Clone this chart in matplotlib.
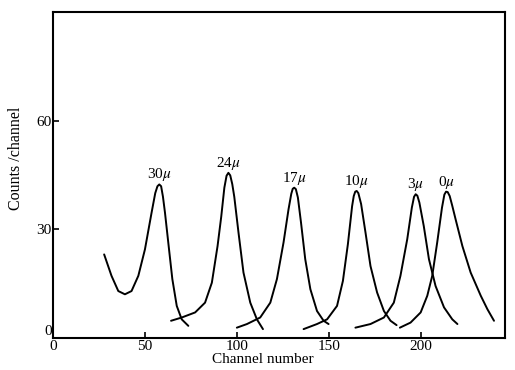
import matplotlib
matplotlib.use("Agg")
import matplotlib.pyplot as plt

plt.rcParams["font.family"] = ["Liberation Serif", "DejaVu Serif"]
plt.rcParams["mathtext.fontset"] = "stix"

# spectra for different absorber thicknesses (channel, counts)
labels = ["30", "24", "17", "10", "3", "0"]

ch_30 = [27.8, 31.8, 35.5, 39.1, 42.7, 46.4, 50.0, 53.6, 55.6, 56.8, 57.8, 58.8, 59.8, 60.9, 63.1, 64.9, 67.3, 70.0, 73.6]
ct_30 = [23.1, 17.2, 13.0, 12.1, 13.0, 17.2, 24.5, 34.6, 40.0, 41.9, 42.4, 41.9, 39.0, 34.6, 24.5, 16.3, 8.9, 5.2, 3.4]

ch_24 = [64.2, 70.0, 77.3, 82.7, 86.4, 89.5, 91.5, 93.2, 94.4, 95.4, 96.4, 97.5, 98.6, 100.9, 103.6, 107.3, 110.9, 114.2]
ct_24 = [4.8, 5.7, 7.1, 9.8, 15.3, 25.4, 33.5, 41.5, 44.8, 45.6, 44.9, 42.5, 39.0, 29.1, 18.1, 9.8, 5.2, 2.5]

ch_17 = [100.0, 105.5, 112.7, 118.2, 121.8, 125.4, 128.1, 129.6, 130.4, 131.2, 132.1, 133.2, 134.9, 137.2, 140.0, 143.6, 147.2, 149.9]
ct_17 = [2.9, 3.9, 5.7, 9.8, 16.3, 26.4, 35.5, 39.8, 41.2, 41.5, 41.1, 38.8, 31.9, 21.8, 13.5, 7.5, 4.8, 3.9]

ch_10 = [136.3, 143.6, 149.1, 154.5, 157.7, 160.4, 162.7, 163.6, 164.4, 165.2, 166.1, 167.6, 170.0, 172.7, 176.3, 180.0, 183.6, 186.9]
ct_10 = [2.5, 3.9, 5.2, 8.9, 15.8, 25.9, 36.4, 39.2, 40.4, 40.6, 40.0, 37.0, 29.1, 19.9, 12.6, 7.5, 4.8, 3.6]

ch_3 = [164.5, 172.7, 180.0, 185.4, 189.0, 192.7, 195.2, 196.4, 197.3, 198.2, 199.3, 201.7, 204.5, 208.1, 212.7, 217.2, 220.0]
ct_3 = [2.9, 3.9, 5.7, 9.8, 17.2, 27.3, 36.0, 39.0, 39.7, 39.3, 37.4, 30.9, 21.8, 14.4, 8.5, 5.2, 3.9]

ch_0 = [188.7, 194.5, 200.0, 203.6, 206.3, 209.0, 211.6, 212.9, 213.8, 214.7, 215.8, 217.2, 219.0, 222.7, 227.2, 232.7, 236.3, 239.9]
ct_0 = [2.9, 4.3, 7.1, 11.7, 17.2, 26.4, 36.0, 39.6, 40.4, 40.3, 39.2, 36.5, 32.8, 25.4, 18.1, 11.7, 8.0, 4.8]

curves = [(ch_30, ct_30), (ch_24, ct_24), (ch_17, ct_17),
          (ch_10, ct_10), (ch_3, ct_3), (ch_0, ct_0)]

fig = plt.figure(figsize=(5.15, 3.7), dpi=100)
ax = fig.add_axes([0.103, 0.086, 0.878, 0.882])

for (x, y), lab in zip(curves, labels):
    ax.plot(x, y, color="black", lw=1.4, solid_joinstyle="round", solid_capstyle="round")
    i = y.index(max(y))
    ax.text(x[i], y[i] + 0.3, lab + r"$\mu$", ha="center", va="bottom", fontsize=11)

ax.set_xlim(0, 246)
ax.set_ylim(0, 90)
ax.set_xticks([0, 50, 100, 150, 200])
ax.set_yticks([0, 30, 60])
ax.tick_params(direction="in", length=4, width=1.2, labelsize=11, pad=1)
for s in ax.spines.values():
    s.set_linewidth(1.5)

# lift the y "0" so it doesn't collide with the x "0"
fig.canvas.draw()
ax.get_yticklabels()[0].set_va("bottom")

ax.set_xlabel("Channel number", fontsize=11, va="top")
ax.set_ylabel("Counts /channel", fontsize=11.5)
ax.xaxis.set_label_coords(0.465, -0.046)
ax.yaxis.set_label_coords(-0.065, 0.55)

fig.savefig("out.png", dpi=100)
